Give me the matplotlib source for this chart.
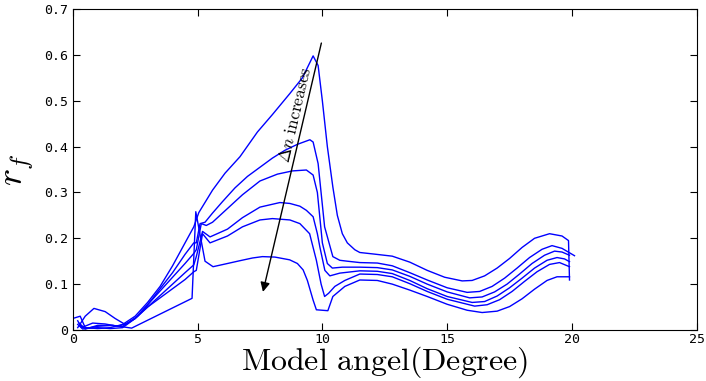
"""Reflection coefficient r_f vs model angle for increasing delta n"""

import matplotlib
matplotlib.use("Agg")
from matplotlib import pyplot as plt

plt.rcParams['mathtext.fontset'] = 'cm'

# curves ordered from smallest to largest delta n (top to bottom)
x1 = [0, 0.3, 0.5, 1.0, 1.5, 2.0, 2.5, 3.0, 3.5, 4.0, 4.5, 4.85, 5.05, 5.6, 6.1, 6.7, 7.4, 8.0,
      8.7, 9.2, 9.63, 9.83, 10.0, 10.2, 10.42, 10.6, 10.8, 11.0, 11.3, 11.5, 12.0, 12.8, 13.5,
      14.2, 14.9, 15.6, 16.0, 16.5, 17.0, 17.5, 18.0, 18.5, 19.1, 19.6, 19.86, 19.9]
y1 = [0.025, 0.03, 0.005, 0.003, 0.005, 0.012, 0.03, 0.06, 0.095, 0.14, 0.19, 0.225, 0.256, 0.305,
      0.342, 0.378, 0.432, 0.47, 0.516, 0.55, 0.598, 0.577, 0.5, 0.40, 0.312, 0.25, 0.21, 0.19,
      0.175, 0.169, 0.166, 0.161, 0.148, 0.13, 0.115, 0.107, 0.108, 0.118, 0.135, 0.156, 0.18,
      0.2, 0.21, 0.205, 0.195, 0.109]

x2 = [0.2, 0.5, 0.85, 1.3, 1.7, 2.1, 2.5, 3.0, 3.5, 4.0, 4.5, 4.85, 4.95, 5.1, 5.3, 5.6, 6.0, 6.5,
      7.0, 7.5, 8.0, 8.5, 9.0, 9.5, 9.63, 9.83, 10.09, 10.42, 10.7, 11.0, 11.5, 12.2, 12.8, 13.5,
      14.2, 15.0, 15.8, 16.3, 16.8, 17.3, 17.8, 18.3, 18.8, 19.2, 19.6, 20.1]
y2 = [0.005, 0.03, 0.047, 0.04, 0.025, 0.012, 0.025, 0.055, 0.09, 0.125, 0.165, 0.19, 0.19, 0.232,
      0.235, 0.255, 0.28, 0.31, 0.335, 0.355, 0.375, 0.392, 0.405, 0.415, 0.41, 0.363, 0.225,
      0.16, 0.152, 0.15, 0.147, 0.146, 0.14, 0.125, 0.109, 0.092, 0.082, 0.084, 0.095, 0.113,
      0.135, 0.158, 0.176, 0.184, 0.178, 0.162]

x3 = [0.2, 0.35, 0.8, 1.3, 1.8, 2.2, 2.6, 3.0, 3.5, 4.0, 4.5, 4.85, 4.95, 5.15, 5.35, 5.6, 6.2,
      6.8, 7.5, 8.2, 8.8, 9.36, 9.63, 9.8, 10.0, 10.2, 10.4, 10.8, 11.5, 12.2, 12.8, 13.5, 14.2,
      15.0, 15.9, 16.4, 16.9, 17.4, 17.9, 18.4, 18.9, 19.3, 19.6, 19.9]
y3 = [0.02, 0.005, 0.015, 0.013, 0.008, 0.015, 0.03, 0.055, 0.085, 0.115, 0.145, 0.167, 0.175,
      0.232, 0.228, 0.235, 0.265, 0.295, 0.325, 0.34, 0.347, 0.349, 0.338, 0.30, 0.19, 0.145,
      0.135, 0.137, 0.137, 0.136, 0.131, 0.117, 0.1, 0.083, 0.07, 0.072, 0.083, 0.1, 0.122,
      0.145, 0.163, 0.172, 0.17, 0.163]

x4 = [0.3, 0.5, 1.0, 1.5, 2.0, 2.5, 3.0, 3.5, 4.0, 4.5, 4.85, 4.95, 5.2, 5.5, 6.2, 6.8, 7.5, 8.3,
      8.7, 9.1, 9.36, 9.63, 9.8, 9.9, 10.1, 10.3, 10.7, 11.5, 12.2, 12.8, 13.5, 14.2, 15.0, 16.0,
      16.5, 17.0, 17.5, 18.0, 18.5, 19.0, 19.4, 19.7, 19.9]
y4 = [0.01, 0.002, 0.01, 0.01, 0.008, 0.025, 0.05, 0.075, 0.1, 0.125, 0.142, 0.16, 0.215, 0.203,
      0.22, 0.245, 0.268, 0.278, 0.276, 0.27, 0.261, 0.247, 0.21, 0.181, 0.13, 0.118, 0.124,
      0.129, 0.128, 0.123, 0.108, 0.09, 0.073, 0.06, 0.062, 0.074, 0.092, 0.113, 0.135, 0.152,
      0.158, 0.155, 0.149]

x5 = [0.25, 0.5, 1.0, 1.5, 2.0, 2.5, 3.0, 3.5, 4.0, 4.5, 4.85, 4.95, 5.2, 5.5, 6.2, 6.8, 7.5, 8.0,
      8.7, 9.1, 9.49, 9.76, 9.95, 10.09, 10.25, 10.5, 10.9, 11.5, 12.2, 12.8, 13.5, 14.2, 15.0,
      16.1, 16.6, 17.1, 17.6, 18.1, 18.6, 19.1, 19.5, 19.9]
y5 = [0.015, 0.003, 0.005, 0.003, 0.005, 0.025, 0.05, 0.07, 0.09, 0.11, 0.127, 0.13, 0.21, 0.19,
      0.205, 0.225, 0.24, 0.243, 0.24, 0.232, 0.21, 0.152, 0.1, 0.073, 0.08, 0.095, 0.108,
      0.122, 0.121, 0.116, 0.101, 0.084, 0.067, 0.052, 0.055, 0.066, 0.084, 0.106, 0.127, 0.143,
      0.147, 0.138]

x6 = [0.2, 0.4, 1.0, 1.6, 2.36, 4.78, 4.93, 5.3, 5.62, 6.2, 6.69, 7.2, 7.6, 8.1, 8.69, 9.0, 9.23,
      9.4, 9.63, 9.76, 10.22, 10.42, 10.9, 11.5, 12.2, 12.8, 13.5, 14.2, 15.0, 15.8, 16.4, 17.0,
      17.5, 18.0, 18.5, 19.0, 19.4, 19.9]
y6 = [0.012, 0.002, 0.008, 0.01, 0.004, 0.069, 0.258, 0.15, 0.138, 0.145, 0.151, 0.157, 0.16,
      0.159, 0.153, 0.145, 0.131, 0.108, 0.065, 0.044, 0.042, 0.073, 0.095, 0.109, 0.108, 0.1,
      0.087, 0.073, 0.056, 0.043, 0.038, 0.041, 0.051, 0.068, 0.089, 0.108, 0.116, 0.116]

curves = [(x1, y1), (x2, y2), (x3, y3), (x4, y4), (x5, y5), (x6, y6)]

x_ticks = [0, 5, 10, 15, 20, 25]
y_ticks = [0, 0.1, 0.2, 0.3, 0.4, 0.5, 0.6, 0.7]
y_tick_labels = ['0', '0.1', '0.2', '0.3', '0.4', '0.5', '0.6', '0.7']

arrow_start = (9.96, 0.626)
arrow_end = (7.62, 0.083)

fig = plt.figure(figsize=(7.06, 3.81), dpi=100)
ax = fig.add_axes([0.103, 0.134, 0.884, 0.842])

for xs, ys in curves:
    ax.plot(xs, ys, color='#0000ff', linewidth=1.0)

ax.annotate('', xy=arrow_end, xytext=arrow_start,
            arrowprops=dict(arrowstyle='-|>', color='k', lw=1.0,
                            mutation_scale=14, shrinkA=0, shrinkB=0))
ax.text(8.9, 0.47, r'$\Delta n\ \mathrm{increases}$', rotation=76.8,
        ha='center', va='center', fontsize=12.5)

ax.set_xlim(0, 25)
ax.set_ylim(0, 0.7)
ax.set_xticks(x_ticks)
ax.set_xticklabels([str(t) for t in x_ticks])
ax.set_yticks(y_ticks)
ax.set_yticklabels(y_tick_labels)
ax.tick_params(direction='in', top=True, right=True, length=5, width=0.8, pad=3)
ax.tick_params(axis='x', pad=2)
for lab in ax.get_xticklabels() + ax.get_yticklabels():
    lab.set_family('DejaVu Sans Mono')
    lab.set_fontsize(9.5)

ax.set_xlabel(r'$\mathrm{Model\ angel(Degree)}$', fontsize=23, labelpad=-1)
ax.set_ylabel(r'$r_f$', fontsize=26, labelpad=6)

fig.savefig('out.png', dpi=100)
plt.close(fig)
